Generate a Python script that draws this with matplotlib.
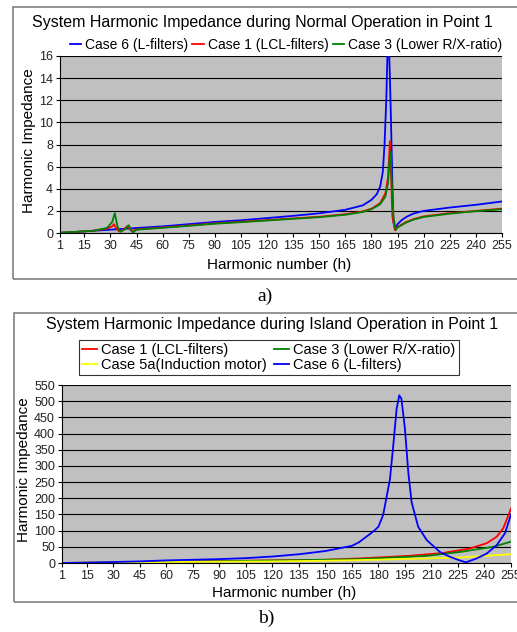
import matplotlib
matplotlib.use('Agg')
import matplotlib.pyplot as plt
from matplotlib.patches import Rectangle

plt.rcParams['font.family'] = ['Liberation Sans', 'DejaVu Sans']

# ---- a) normal operation ----
h_case6_a = [1, 10, 20, 30, 45, 60, 75, 90, 105, 120, 135, 150, 165, 175, 180, 183, 185,
             186.5, 187.5, 188.5, 189.3, 190, 190.6, 191.2, 192, 192.6, 193.5, 195, 197.4,
             200, 204, 210, 225, 240, 255]
z_case6_a = [0.0, 0.1, 0.2, 0.3, 0.45, 0.6, 0.8, 1.0, 1.15, 1.35, 1.55, 1.78, 2.1, 2.5, 3.0,
             3.5, 4.2, 5.5, 8.0, 12.0, 17.0, 17.0, 14.0, 10.2, 4.5, 1.0, 0.4, 0.8, 1.17,
             1.45, 1.75, 2.0, 2.3, 2.55, 2.85]

h_case1_a = [1, 10, 20, 28, 31, 32, 33, 34.5, 36, 38, 40, 41.5, 43, 45, 60, 75, 90, 105,
             120, 135, 150, 165, 175, 180, 185, 188, 189.5, 190.6, 191.3, 192, 193.5, 195,
             200, 204, 210, 225, 240, 255]
z_case1_a = [0.0, 0.1, 0.2, 0.4, 0.6, 0.8, 0.5, 0.2, 0.15, 0.4, 0.65, 0.25, 0.2, 0.33, 0.5,
             0.68, 0.87, 1.02, 1.17, 1.32, 1.47, 1.7, 1.95, 2.2, 2.7, 3.6, 5.0, 8.3, 5.0,
             1.5, 0.25, 0.55, 1.0, 1.25, 1.5, 1.8, 2.0, 2.2]

h_case3_a = [1, 10, 20, 28, 31, 32.5, 34, 35.5, 38, 40.5, 42, 43, 45, 60, 75, 90, 105, 120,
             135, 150, 165, 175, 180, 185, 188, 189.5, 190.3, 191, 191.8, 192.6, 193.9, 195,
             200, 204, 210, 225, 240, 255]
z_case3_a = [0.05, 0.1, 0.2, 0.45, 1.0, 1.8, 0.6, 0.1, 0.3, 0.7, 0.2, 0.05, 0.3, 0.47, 0.65,
             0.84, 0.98, 1.13, 1.28, 1.43, 1.65, 1.9, 2.15, 2.6, 3.3, 4.5, 6.5, 7.35, 4.0,
             1.5, 0.27, 0.5, 0.95, 1.2, 1.45, 1.75, 1.97, 2.15]

# ---- b) island operation ----
h_case1_b = [1, 30, 60, 90, 120, 150, 169, 197, 216.6, 231.8, 241.2, 246.9, 250.6, 255]
z_case1_b = [0, 2, 4, 6, 8, 10, 14, 22, 31, 45, 61, 81, 107, 168]

h_case3_b = [1, 30, 60, 90, 120, 150, 169, 207, 226, 245, 255]
z_case3_b = [0, 2, 4, 5.5, 7.5, 10, 12, 22, 34, 50, 66]

h_case5a_b = [1, 30, 60, 90, 120, 150, 169, 207, 226, 255]
z_case5a_b = [0, 1.5, 3, 4, 5, 7, 9, 14, 17, 27]

h_case6_b = [1, 15, 30, 45, 60, 75, 90, 105, 120, 135, 150, 165, 169, 177, 180, 182.7,
             186.5, 188.4, 190.3, 191.8, 193, 195, 196.9, 198.8, 202.5, 207.3, 214.8, 220.5,
             226, 229.5, 235.5, 241.2, 246.9, 251.6, 255]
z_case6_b = [0, 1, 3, 5, 8, 10, 12, 15, 20, 27, 37, 53, 64, 97, 112, 149, 258, 363, 477, 518,
             508, 415, 280, 187, 112, 71, 34, 19, 8, 2, 14, 29, 55, 92, 150]

xticks = [1, 15, 30, 45, 60, 75, 90, 105, 120, 135, 150, 165, 180, 195, 210, 225, 240, 255]

W, H = 517, 632
fig = plt.figure(figsize=(W / 100, H / 100), dpi=100)
fig.patch.set_facecolor('white')


def fx(px):
    return px / W


def fy(py):
    return 1 - py / H


def style_axes(ax, ymax, ystep):
    ax.set_facecolor('#C0C0C0')
    ax.set_xlim(1, 255)
    ax.set_ylim(0, ymax)
    ax.set_xticks(xticks)
    ax.set_yticks(range(0, ymax + 1, ystep))
    ax.yaxis.grid(True, color='black', lw=0.8)
    ax.set_axisbelow(True)
    for s in ['top', 'right']:
        ax.spines[s].set_visible(False)
    for s in ['left', 'bottom']:
        ax.spines[s].set_color('black')
        ax.spines[s].set_linewidth(0.8)
    ax.tick_params(direction='out', length=3, width=0.8, labelsize=9,
                   labelcolor='#222222', pad=2)


# frames around each chart
fig.patches.append(Rectangle((fx(13), fy(279)), 1.0, fy(7) - fy(279), transform=fig.transFigure,
                             fill=False, edgecolor='#808080', lw=1.2))
fig.patches.append(Rectangle((fx(14), fy(602)), 1.0, fy(313) - fy(602), transform=fig.transFigure,
                             fill=False, edgecolor='#808080', lw=1.2))

# top chart
ax1 = fig.add_axes([fx(60), fy(233), fx(502) - fx(60), fy(56) - fy(233)])
style_axes(ax1, 16, 2)
ax1.plot(h_case6_a, z_case6_a, color='#0000FF', lw=1.3, label='Case 6 (L-filters)')
ax1.plot(h_case1_a, z_case1_a, color='#FF0000', lw=1.3, label='Case 1 (LCL-filters)')
ax1.plot(h_case3_a, z_case3_a, color='#008000', lw=1.3, label='Case 3 (Lower R/X-ratio)')
fig.text(fx(262), fy(23), 'System Harmonic Impedance during Normal Operation in Point 1',
         ha='center', va='center', fontsize=11.5)
fig.text(fx(29), fy(141), 'Harmonic Impedance', ha='center', va='center', rotation=90, fontsize=11)
fig.text(fx(279), fy(265), 'Harmonic number (h)', ha='center', va='center', fontsize=11)
fig.legend(handles=ax1.get_lines(), loc='center', bbox_to_anchor=(fx(286), fy(45)),
           ncol=3, frameon=False, fontsize=10, handlelength=0.8, handletextpad=0.3,
           columnspacing=0.3, borderpad=0)
fig.text(fx(265), fy(296), 'a)', ha='center', va='center', fontsize=14, family='Liberation Serif')

# bottom chart
ax2 = fig.add_axes([fx(62), fy(563), fx(511) - fx(62), fy(385) - fy(563)])
style_axes(ax2, 550, 50)
l1, = ax2.plot(h_case1_b, z_case1_b, color='#FF0000', lw=1.3, label='Case 1 (LCL-filters)')
l3, = ax2.plot(h_case3_b, z_case3_b, color='#008000', lw=1.3, label='Case 3 (Lower R/X-ratio)')
l5, = ax2.plot(h_case5a_b, z_case5a_b, color='#FFFF00', lw=1.3, label='Case 5a(Induction motor)')
l6, = ax2.plot(h_case6_b, z_case6_b, color='#0000FF', lw=1.3, label='Case 6 (L-filters)')
fig.text(fx(272), fy(325), 'System Harmonic Impedance during Island Operation in Point 1',
         ha='center', va='center', fontsize=11.5)
fig.text(fx(24), fy(470), 'Harmonic Impedance', ha='center', va='center', rotation=90, fontsize=11)
fig.text(fx(284), fy(593), 'Harmonic number (h)', ha='center', va='center', fontsize=11)
leg = fig.legend(handles=[l1, l5, l3, l6], loc='center', bbox_to_anchor=(fx(269), fy(357.5)),
                 ncol=2, frameon=True, fontsize=10.5, handlelength=1.0, handletextpad=0.3,
                 columnspacing=0.5, borderpad=0.2, labelspacing=0.1, fancybox=False)
leg.get_frame().set_edgecolor('black')
leg.get_frame().set_linewidth(0.8)
fig.text(fx(266), fy(618), 'b)', ha='center', va='center', fontsize=14, family='Liberation Serif')

fig.savefig('out.png', dpi=100)
